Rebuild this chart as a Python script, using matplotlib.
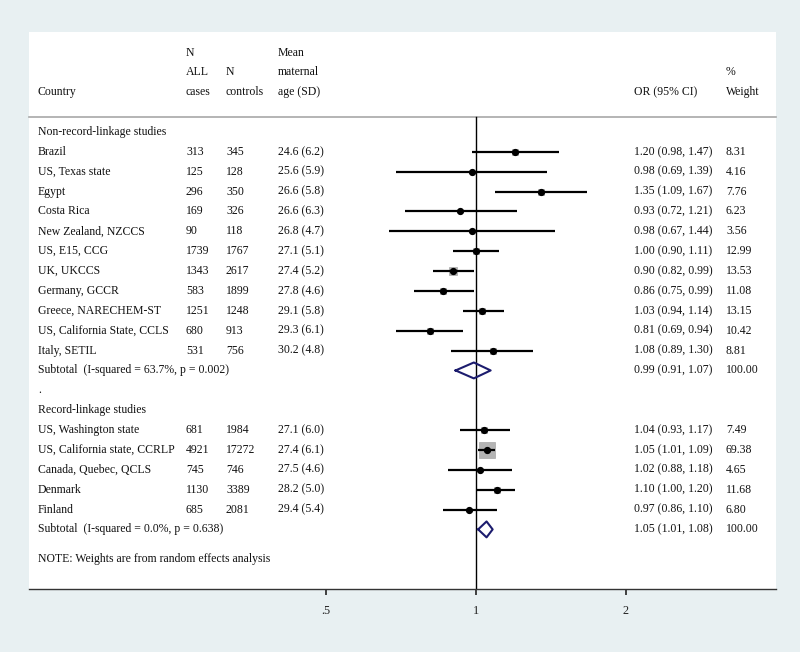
import matplotlib
matplotlib.use("Agg")
import matplotlib.pyplot as plt
import matplotlib.transforms as mtransforms
import numpy as np

plt.rcParams['font.family'] = ['Liberation Serif', 'DejaVu Serif']

# ---- data ----
group1_names = ["Brazil", "US, Texas state", "Egypt", "Costa Rica", "New Zealand, NZCCS",
                "US, E15, CCG", "UK, UKCCS", "Germany, GCCR", "Greece, NARECHEM-ST",
                "US, California State, CCLS", "Italy, SETIL"]
group1_cases = [313, 125, 296, 169, 90, 1739, 1343, 583, 1251, 680, 531]
group1_controls = [345, 128, 350, 326, 118, 1767, 2617, 1899, 1248, 913, 756]
group1_age = ["24.6 (6.2)", "25.6 (5.9)", "26.6 (5.8)", "26.6 (6.3)", "26.8 (4.7)", "27.1 (5.1)",
              "27.4 (5.2)", "27.8 (4.6)", "29.1 (5.8)", "29.3 (6.1)", "30.2 (4.8)"]
group1_or = [1.20, 0.98, 1.35, 0.93, 0.98, 1.00, 0.90, 0.86, 1.03, 0.81, 1.08]
group1_lo = [0.98, 0.69, 1.09, 0.72, 0.67, 0.90, 0.82, 0.75, 0.94, 0.69, 0.89]
group1_hi = [1.47, 1.39, 1.67, 1.21, 1.44, 1.11, 0.99, 0.99, 1.14, 0.94, 1.30]
group1_w = [8.31, 4.16, 7.76, 6.23, 3.56, 12.99, 13.53, 11.08, 13.15, 10.42, 8.81]
group1_sub = (0.99, 0.91, 1.07)
group1_sub_label = "Subtotal  (I-squared = 63.7%, p = 0.002)"

group2_names = ["US, Washington state", "US, California state, CCRLP", "Canada, Quebec, QCLS",
                "Denmark", "Finland"]
group2_cases = [681, 4921, 745, 1130, 685]
group2_controls = [1984, 17272, 746, 3389, 2081]
group2_age = ["27.1 (6.0)", "27.4 (6.1)", "27.5 (4.6)", "28.2 (5.0)", "29.4 (5.4)"]
group2_or = [1.04, 1.05, 1.02, 1.10, 0.97]
group2_lo = [0.93, 1.01, 0.88, 1.00, 0.86]
group2_hi = [1.17, 1.09, 1.18, 1.20, 1.10]
group2_w = [7.49, 69.38, 4.65, 11.68, 6.80]
group2_sub = (1.05, 1.01, 1.08)
group2_sub_label = "Subtotal  (I-squared = 0.0%, p = 0.638)"

xticks = [0.5, 1, 2]
xticklabels = [".5", "1", "2"]

# ---- figure ----
W, H = 800, 652
bg = '#e8f0f2'
fig = plt.figure(figsize=(W / 100, H / 100), dpi=100, facecolor=bg)
left_px, right_px, top_px, bot_px = 29, 776, 32, 589
ax = fig.add_axes([left_px / W, 1 - bot_px / H, (right_px - left_px) / W, (bot_px - top_px) / H])
ax.set_facecolor('white')
ax.set_xscale('log', base=2)
# x range: 1 at px 476, 150 px per doubling
x0 = 2 ** ((left_px - 476) / 150)
x1 = 2 ** ((right_px - 476) / 150)
ax.set_xlim(x0, x1)
row_px = 19.87
first_row_px = 132
ax.set_ylim((bot_px - first_row_px) / row_px, (top_px - first_row_px) / row_px)

for s in ['top', 'left', 'right']:
    ax.spines[s].set_visible(False)
ax.spines['bottom'].set_color('#333333')
ax.spines['bottom'].set_linewidth(1.0)
ax.set_yticks([])
ax.set_xticks(xticks)
ax.set_xticklabels(xticklabels)
ax.xaxis.set_minor_locator(matplotlib.ticker.NullLocator())
ax.tick_params(axis='x', length=4.5, width=1.2, pad=7, labelsize=8.8, colors='#222222')

trans = mtransforms.blended_transform_factory(ax.transAxes, ax.transData)

def fx(px):
    return (px - left_px) / (right_px - left_px)

fs = 8.45
col_country, col_cases, col_ctrl, col_age, col_or, col_w = fx(38), fx(186), fx(226), fx(278), fx(634), fx(726)

def txt(x, y, s):
    ax.text(x, y, s, transform=trans, ha='left', va='center', fontsize=fs, color='#111111')

# header
txt(col_cases, -4, "N")
txt(col_age, -4, "Mean")
txt(col_cases, -3, "ALL")
txt(col_ctrl, -3, "N")
txt(col_age, -3, "maternal")
txt(col_w, -3, "%")
txt(col_country, -2, "Country")
txt(col_cases, -2, "cases")
txt(col_ctrl, -2, "controls")
txt(col_age, -2, "age (SD)")
txt(col_or, -2, "OR (95% CI)")
txt(col_w, -2, "Weight")
ax.plot([0, 1], [-0.75, -0.75], transform=trans, color='#a8a8a8', lw=1.2, clip_on=False)

# null line
ax.plot([1, 1], [-0.75, ax.get_ylim()[0]], color='black', lw=1.0, zorder=2)

k = 1.38

def draw_group(start, title, names, cases, ctrls, ages, ors, los, his, ws, sub, sub_label):
    txt(col_country, start, title)
    for i in range(len(names)):
        y = start + 1 + i
        txt(col_country, y, names[i])
        txt(col_cases, y, str(cases[i]))
        txt(col_ctrl, y, str(ctrls[i]))
        txt(col_age, y, ages[i])
        txt(col_or, y, f"{ors[i]:.2f} ({los[i]:.2f}, {his[i]:.2f})")
        txt(col_w, y, f"{ws[i]:.2f}")
        ax.plot(ors[i], y, marker='s', ms=k * np.sqrt(ws[i]), mfc='#b4b4b4', mec='#a6a6a6',
                mew=0.5, zorder=3)
        ax.plot([los[i], his[i]], [y, y], color='black', lw=1.6, zorder=4, solid_capstyle='butt')
        ax.plot(ors[i], y, marker='o', ms=4.2, color='black', zorder=5)
    ys = start + 1 + len(names)
    txt(col_country, ys, sub_label)
    txt(col_or, ys, f"{sub[0]:.2f} ({sub[1]:.2f}, {sub[2]:.2f})")
    txt(col_w, ys, "100.00")
    h = 0.4
    ax.plot([sub[1], sub[0], sub[2], sub[0], sub[1]], [ys, ys - h, ys, ys + h, ys],
            color='#1c1c6e', lw=1.5, zorder=6)
    return ys

end1 = draw_group(0, "Non-record-linkage studies", group1_names, group1_cases, group1_controls,
                  group1_age, group1_or, group1_lo, group1_hi, group1_w, group1_sub, group1_sub_label)
txt(col_country, end1 + 1, ".")
end2 = draw_group(end1 + 2, "Record-linkage studies", group2_names, group2_cases, group2_controls,
                  group2_age, group2_or, group2_lo, group2_hi, group2_w, group2_sub, group2_sub_label)
txt(col_country, end2 + 1.5, "NOTE: Weights are from random effects analysis")

fig.savefig("out.png", dpi=100, facecolor=bg)
